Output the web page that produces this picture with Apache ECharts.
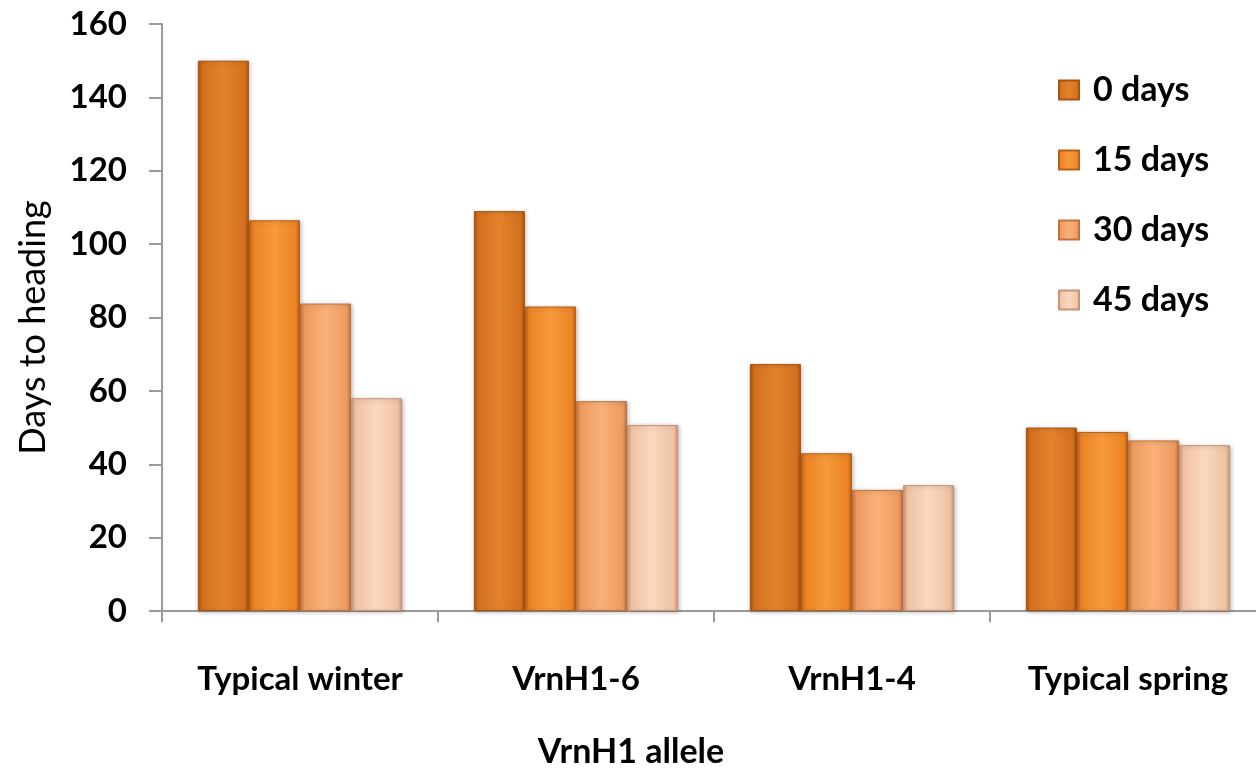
<!DOCTYPE html>
<html>
<head>
<meta charset="utf-8">
<script src="https://cdn.jsdelivr.net/npm/echarts@6/dist/echarts.min.js"></script>
<style>
html,body{margin:0;padding:0;background:#fff;overflow:hidden;width:1256px;height:776px;}
#chart{width:1266px;height:776px;}
</style>
</head>
<body>
<div id="chart"></div>
<script>
const categories = ['Typical winter', 'VrnH1-6', 'VrnH1-4', 'Typical spring'];
const seriesNames = ['0 days', '15 days', '30 days', '45 days'];
const days0 = [150, 109, 67.3, 50];
const days15 = [106.5, 83, 43, 48.8];
const days30 = [83.8, 57.2, 33, 46.5];
const days45 = [58, 50.7, 34.3, 45.2];
const yTicks = [0, 20, 40, 60, 80, 100, 120, 140, 160];

const palette = [
  {base:'#d4701f', light:'#e2832c', dark:'#a9530f'},
  {base:'#ec8324', light:'#f59a3c', dark:'#b8601a'},
  {base:'#ee9a5e', light:'#f8b27a', dark:'#bf7240'},
  {base:'#f0c2a2', light:'#fad8c0', dark:'#c79478'}
];
function grad(p){
  return new echarts.graphic.LinearGradient(0,0,1,0,[
    {offset:0, color:p.dark},
    {offset:0.08, color:p.base},
    {offset:0.5, color:p.light},
    {offset:0.92, color:p.base},
    {offset:1, color:p.dark}
  ]);
}
const dataSets = [days0, days15, days30, days45];
const font = 'Lato, "Open Sans", sans-serif';

const chart = echarts.init(document.getElementById('chart'));
chart.setOption({
  animation: false,
  backgroundColor: '#ffffff',
  grid: {left: 162, top: 24, width: 1104, height: 587, containLabel: false},
  legend: {
    orient: 'vertical',
    left: 1053, top: 68,
    itemWidth: 20, itemHeight: 19, itemGap: 36,
    icon: 'rect',
    textStyle: {fontFamily: font, fontSize: 34, lineHeight: 34, fontWeight: 'bold', color: '#000', padding: [0,0,0,9]},
    data: seriesNames
  },
  xAxis: {
    type: 'category',
    data: categories,
    name: 'VrnH1 allele',
    nameLocation: 'middle',
    nameGap: 124,
    nameTextStyle: {fontFamily: font, fontSize: 34, fontWeight: 'bold', color: '#000', padding: [0, 166, 0, 0]},
    axisLine: {lineStyle: {color: '#9a9a9a', width: 2}},
    axisTick: {show: true, length: 11, lineStyle: {color: '#9a9a9a', width: 2}},
    axisLabel: {fontFamily: font, fontSize: 33, fontWeight: 'bold', color: '#000', margin: 52}
  },
  yAxis: {
    type: 'value',
    min: 0, max: 160, interval: 20,
    name: 'Days to heading',
    nameLocation: 'middle',
    nameGap: 111,
    nameRotate: 90,
    nameTextStyle: {fontFamily: font, fontSize: 36, color: '#000', padding: [0, 20, 0, 0]},
    axisLine: {show: true, lineStyle: {color: '#9a9a9a', width: 2}},
    axisTick: {show: true, length: 13, lineStyle: {color: '#9a9a9a', width: 2}},
    splitLine: {show: false},
    axisLabel: {fontFamily: font, fontSize: 33, fontWeight: 'bold', color: '#000', margin: 35,
      formatter: v => yTicks.includes(v) ? String(v) : ''}
  },
  series: dataSets.map((d, i) => ({
    name: seriesNames[i],
    type: 'bar',
    data: d,
    barGap: '0%',
    barCategoryGap: '26%',
    itemStyle: {color: grad(palette[i]), borderColor: palette[i].dark, borderWidth: 1,
      shadowColor: 'rgba(0,0,0,0.25)', shadowBlur: 4, shadowOffsetX: 1, shadowOffsetY: 1}
  }))
});
</script>
</body>
</html>
